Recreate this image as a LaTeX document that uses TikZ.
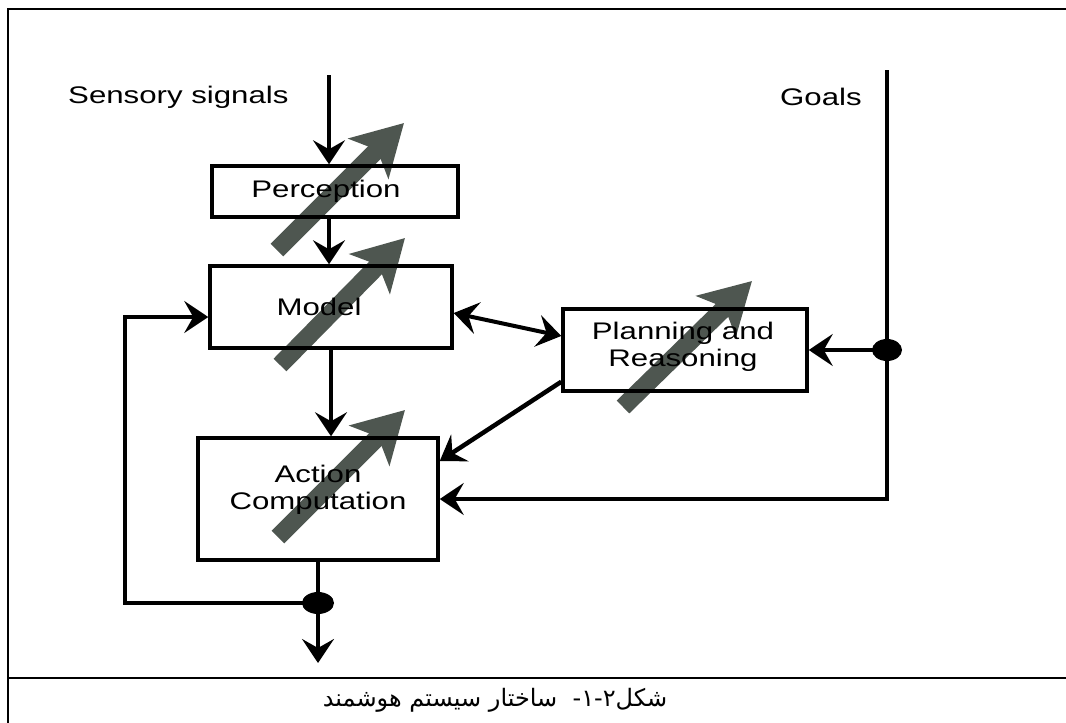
\documentclass[tikz,border=0pt]{standalone}
\usepackage{fontspec}
\setmainfont{Liberation Sans}
\newfontfamily\lab[FakeStretch=1.3]{Liberation Sans}
\newfontfamily\arabicfont[Script=Arabic]{DejaVu Sans}
\TeXXeTstate=1
\usetikzlibrary{arrows.meta,shapes.geometric}
\definecolor{arrowgray}{RGB}{78,86,80}
\begin{document}
\begin{tikzpicture}[x=1pt,y=-1pt,
  box/.style={draw, line width=3.5pt, inner sep=0pt},
  lbl/.style={inner sep=0pt, align=center, font=\lab\fontsize{24}{27}\selectfont},
  conn/.style={line width=3.5pt, line join=miter, -{Stealth[length=24pt,width=32pt,inset=9pt]}},
  dconn/.style={line width=4pt, {Stealth[length=24pt,width=32pt,inset=9pt]}-{Stealth[length=24pt,width=32pt,inset=9pt]}},
  dotnode/.style={ellipse, fill=black, inner sep=0pt, minimum width=30pt, minimum height=22pt},
  grayarrow/.style={draw=arrowgray, line width=18pt, -{Stealth[length=50pt,width=56pt,inset=12pt]}},
  frameline/.style={line width=2.2pt}]
\useasboundingbox (0,0) rectangle (1066,723);
% frame
\draw[frameline] (1066,9) -- (8,9) -- (8,723);
\draw[frameline] (8,678) -- (1066,678);
% gray arrows (behind)
\coordinate (ga1) at (277,250); \coordinate (gb1) at (404,123);
\coordinate (ga2) at (280,365); \coordinate (gb2) at (405,238);
\coordinate (ga3) at (278,537); \coordinate (gb3) at (405,410);
\coordinate (ga4) at (623,407); \coordinate (gb4) at (752,281);
\draw[grayarrow] (ga1) -- (gb1);
\draw[grayarrow] (ga2) -- (gb2);
\draw[grayarrow] (ga3) -- (gb3);
\draw[grayarrow] (ga4) -- (gb4);
% boxes
\node[box, minimum width=246pt, minimum height=51pt] (perc) at (335,191.5) {};
\node[box, minimum width=242pt, minimum height=82pt] (model) at (331,307) {};
\node[box, minimum width=240pt, minimum height=122pt] (act) at (318,499) {};
\node[box, minimum width=244pt, minimum height=82pt] (plan) at (685,350) {};
% box texts
\node[lbl] (perct) at (326,191) {Perception};
\node[lbl] (modelt) at (319,307) {Model};
\node[lbl] (actt) at (318,490) {Action\\Computation};
\node[lbl] (plant) at (683,347) {Planning and\\Reasoning};
% labels
\node[lbl, anchor=west] (sens) at (68,97) {Sensory signals};
\node[lbl, anchor=west] (goals) at (780,97) {Goals};
% connectors
\coordinate (s0) at (329,75);
\draw[conn] (s0) -- (s0 |- perc.north);
\draw[conn] (s0 |- perc.south) -- (s0 |- model.north);
\draw[conn] (model.south) -- (model.south |- act.north);
\draw[dconn] ([yshift=-6pt]model.east) -- ([yshift=14pt]plan.west);
\draw[conn, line width=4.5pt] ([yshift=11pt]plan.south west) -- ([yshift=38pt]act.east);
\coordinate (g0) at (887,70);
\draw[conn] (g0) |- (act.east);
\node[dotnode] (d1) at (g0 |- plan.east) {};
\draw[conn] (d1.center) -- (plan.east);
\coordinate (out) at (318,663);
\coordinate (fb1) at (125,603);
\draw[conn] (act.south) -- (out);
\draw[conn] (318,603) -- (fb1) |- ([yshift=-10pt]model.west);
\node[dotnode, minimum width=32pt] (d2) at (318,603) {};
% caption
\node[inner sep=0pt, font=\arabicfont\fontsize{24}{28}\selectfont] (cap) at (495,700) {\beginR شکل۲-۱-\ \ ساختار سیستم هوشمند\endR};
\end{tikzpicture}
\end{document}
